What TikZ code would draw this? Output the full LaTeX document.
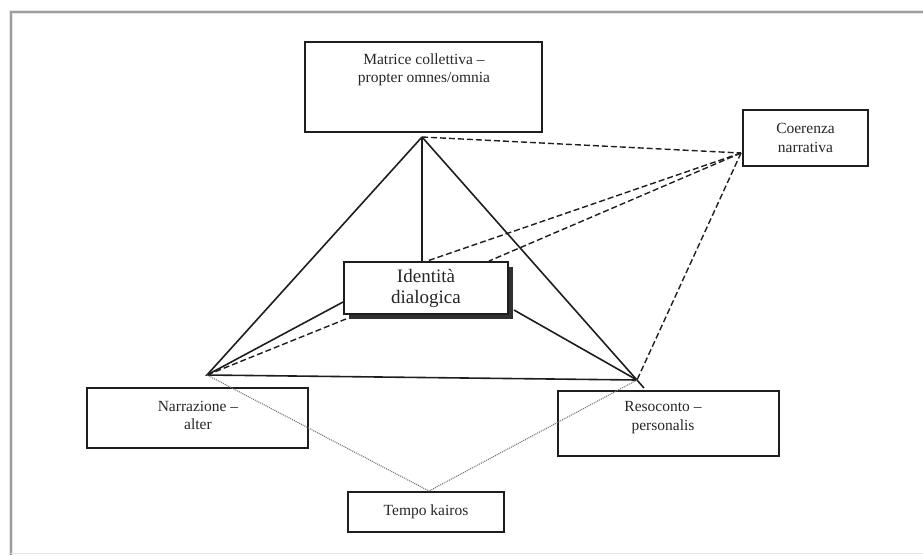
\documentclass[tikz,border=0pt]{standalone}
\usepackage{fontspec}
\setmainfont{Liberation Serif}
\usetikzlibrary{shadows}
\definecolor{ink}{HTML}{1E1E1E}
\definecolor{txt}{HTML}{262626}
\tikzset{
  box/.style={draw=ink, line width=1.9pt, inner sep=0pt},
  lbl/.style={text=txt, align=center, font=\fontsize{15.5}{18.5}\selectfont, inner sep=0pt},
  solidline/.style={draw=ink, line width=1.6pt},
  dashline/.style={draw=ink, line width=1.4pt, dash pattern=on 6pt off 3pt},
  dotline/.style={draw=black!55, line width=1.1pt, dash pattern=on 1pt off 1pt},
  framesoft/.style={draw=black!10, line width=4pt},
  frameline/.style={draw=black!38, line width=1.3pt}
}
\begin{document}
\begin{tikzpicture}[x=1pt, y=-1pt]
  \useasboundingbox (0,0) rectangle (923,555);

  % page frame with soft edge
  \coordinate (fTL) at (11,12);
  \coordinate (fTR) at (923,12);
  \coordinate (fBL) at (11,555);
  \coordinate (fbL) at (11,553);
  \coordinate (fbR) at (923,553);
  \draw[framesoft] (fTR) -- (fTL) -- (fBL);
  \draw[frameline] (fTR) -- (fTL) -- (fBL);
  \draw[draw=black!10, line width=1pt] (fbL) -- (fbR);

  % boxes
  \node[box, minimum width=237pt, minimum height=90pt] (mat) at (423.5,87) {};
  \node[lbl] (matT) at (424,70) {Matrice collettiva –\\propter omnes/omnia};

  \node[box, minimum width=125pt, minimum height=56pt, lbl] (coe) at (805.5,138) {Coerenza\\narrativa};

  \node[box, minimum width=221pt, minimum height=60pt] (nar) at (197.5,418) {};
  \node[lbl] (narT) at (198,415.5) {Narrazione –\\alter};

  \node[box, minimum width=221pt, minimum height=65pt] (res) at (668.5,423.5) {};
  \node[lbl] (resT) at (663,417.5) {Resoconto –\\personalis};

  \node[box, minimum width=156pt, minimum height=40pt, lbl] (tem) at (426,512) {Tempo kairos};

  \node[box, fill=white, minimum width=164pt, minimum height=52pt, lbl,
        font=\fontsize{19}{21}\selectfont,
        drop shadow={shadow xshift=4.5pt, shadow yshift=-4.5pt, fill=black!90, opacity=0.9}]
        (id) at (426,288) {Identità\\dialogica};

  % triangle vertices and meeting points
  \coordinate (A) at (422,137);
  \coordinate (L) at (207,375);
  \coordinate (R) at (637,380);
  \coordinate (Rt) at (644,388);
  \coordinate (T) at (429,491);
  \coordinate (C) at (741,153);

  % triangle
  \draw[solidline] (A) -- (L) -- (R);
  \draw[solidline] (A) -- (Rt);
  \draw[solidline] (A) -- (A |- id.north);
  \draw[solidline] (L) -- ([yshift=-14pt]id.west);
  \draw[solidline] (R) -- ([xshift=5pt, yshift=-22pt]id.east);

  % narrative coherence links
  \draw[dashline] (A) -- (C);
  \draw[dashline] (C) -- ([xshift=1pt]id.north);
  \draw[dashline] (C) -- ([xshift=-20pt]id.north east);
  \draw[dashline] (C) -- (R);
  \draw[dashline] (L) -- ([xshift=3pt, yshift=-4pt]id.south west);

  % kairos links
  \draw[dotline] (L) -- (T);
  \draw[dotline] (R) -- (T);
\end{tikzpicture}
\end{document}
